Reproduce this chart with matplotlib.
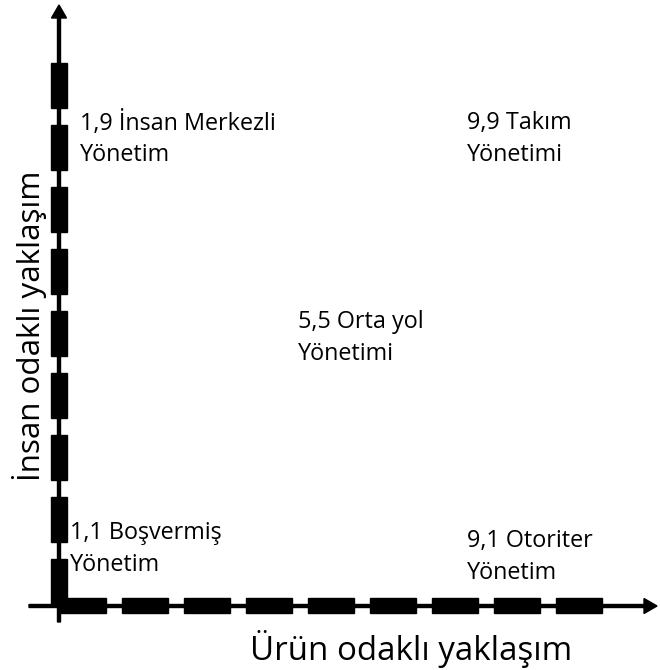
import numpy as np
import matplotlib
matplotlib.use("Agg")
import matplotlib.pyplot as plt

# --- data ---
labels = ["1,9 İnsan Merkezli\nYönetim", "9,9 Takım\nYönetimi", "5,5 Orta yol\nYönetimi",
          "1,1 Boşvermiş\nYönetim", "9,1 Otoriter\nYönetim"]
x_title = "Ürün odaklı yaklaşım"
y_title = "İnsan odaklı yaklaşım"

# --- layout (pixel coordinates) ---
label_pos = [(80, 139), (467, 139), (298, 338), (70, 549), (467, 557)]
origin = (59, 606)
n_blocks = 9
period = 62
block_len = 45
block_thick = 16

FONT = ["Open Sans", "DejaVu Sans"]

fig = plt.figure(figsize=(6.6, 6.7), dpi=100)
ax = fig.add_axes([0, 0, 1, 1])
ax.set_xlim(0, 660)
ax.set_ylim(670, 0)
ax.axis("off")

# thin axis lines with arrows
ax.arrow(origin[0], 622, 0, 5 - 622, width=3, head_width=15, head_length=13,
         length_includes_head=True, color="black")
ax.arrow(29, origin[1], 657 - 29, 0, width=3, head_width=15, head_length=13,
         length_includes_head=True, color="black")

# dashed blocks
v_starts = 63 + period * np.arange(n_blocks)
for s in v_starts:
    ax.add_patch(plt.Rectangle((origin[0] - block_thick / 2, s), block_thick, block_len,
                               color="black"))
h_starts = 60 + period * np.arange(n_blocks)
for s in h_starts:
    ax.add_patch(plt.Rectangle((s, origin[1] - 8), block_len + 1, 15, color="black"))

for lab, (x, y) in zip(labels, label_pos):
    ax.text(x, y, lab, fontsize=16.8, family=FONT, ha="left", va="center",
            linespacing=1.4, color="black")

ax.text(411, 649, x_title, fontsize=23.8, family=FONT, ha="center", va="center")
ax.text(30, 326, y_title, fontsize=22.6, family=FONT, ha="center", va="center",
        rotation=90)

fig.savefig("out.png", dpi=100)
